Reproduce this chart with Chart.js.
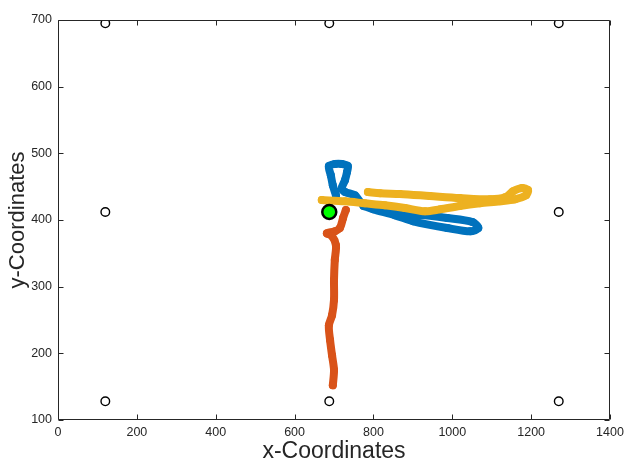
<!DOCTYPE html>
<html>
<head>
<meta charset="utf-8">
<script src="https://cdn.jsdelivr.net/npm/chart.js@4"></script>
<style>
  html, body { margin: 0; padding: 0; background: #ffffff; }
  #wrap { width: 626px; height: 461px; }
</style>
</head>
<body>
<div id="wrap"><canvas id="c" width="626" height="461"></canvas></div>
<script>
// ---- data ----
const xTicks = [0, 200, 400, 600, 800, 1000, 1200, 1400];
const yTicks = [100, 200, 300, 400, 500, 600, 700];

// reference targets (grid of anchor points)
const anchorX = [120, 688, 1270];
const anchorY = [128, 412, 695];

// start point
const startX = [688];
const startY = [412];

// trajectory 1 (blue)
const blueX = [705, 697, 692, 687, 702, 720, 735, 733, 728, 720, 728, 753, 771, 817, 901, 987, 1051, 1066, 1046, 987, 901, 855, 800, 775];
const blueY = [437, 452, 467, 481, 484, 484, 481, 472, 460, 448, 442, 437, 425, 415, 409, 403, 397, 388, 383, 388, 398, 407, 416, 421];

// trajectory 2 (orange)
const orangeX = [730, 723, 715, 702, 682, 695, 705, 702, 700, 700, 695, 687, 690, 695, 700, 697];
const orangeY = [415, 403, 388, 383, 380, 376, 362, 340, 310, 280, 257, 242, 220, 197, 175, 152];

// trajectory 3 (yellow)
const yellowX = [669, 728, 778, 829, 880, 931, 969, 1019, 1070, 1121, 1159, 1187, 1192, 1177, 1154, 1134, 1096, 1019, 943, 867, 817, 786];
const yellowY = [430, 428, 425, 422, 418, 413, 416, 421, 425, 428, 431, 437, 445, 448, 443, 434, 431, 433, 436, 439, 440, 442];

// ---- build datasets ----
function pts(xs, ys) { return xs.map((x, i) => ({ x: x, y: ys[i] })); }
const anchors = [];
anchorX.forEach(x => anchorY.forEach(y => anchors.push({ x: x, y: y })));

const FONT = "'Liberation Sans', Arial, Helvetica, sans-serif";
const AX = '#262626';

const boxPlugin = {
  id: 'matlabBox',
  afterDraw(chart) {
    const ctx = chart.ctx;
    const a = chart.chartArea;
    const xs = chart.scales.x, ys = chart.scales.y;
    ctx.save();
    ctx.strokeStyle = AX;
    ctx.lineWidth = 1;
    const L = Math.round(a.left) + 0.5, R = Math.round(a.right) - 0.5;
    const T = Math.round(a.top) + 0.5, B = Math.round(a.bottom) - 0.5;
    ctx.beginPath();
    ctx.rect(L, T, R - L, B - T);
    const tl = 5;
    xTicks.forEach(v => {
      const p = Math.round(xs.getPixelForValue(v)) + 0.5;
      ctx.moveTo(p, B); ctx.lineTo(p, B - tl);
      ctx.moveTo(p, T); ctx.lineTo(p, T + tl);
    });
    yTicks.forEach(v => {
      const p = Math.round(ys.getPixelForValue(v)) + 0.5;
      ctx.moveTo(L, p); ctx.lineTo(L + tl, p);
      ctx.moveTo(R, p); ctx.lineTo(R - tl, p);
    });
    ctx.stroke();
    ctx.restore();
  }
};

const traceStyle = (color, order) => ({
  showLine: true,
  borderColor: color,
  backgroundColor: color,
  borderWidth: 8,
  pointRadius: 4,
  pointBorderWidth: 0,
  pointHoverRadius: 0,
  borderCapStyle: 'round',
  borderJoinStyle: 'round',
  tension: 0.3,
  order: order
});

new Chart(document.getElementById('c'), {
  type: 'scatter',
  data: {
    datasets: [
      Object.assign({ label: 'blue', data: pts(blueX, blueY) }, traceStyle('#0072BD', 3)),
      Object.assign({ label: 'orange', data: pts(orangeX, orangeY) }, traceStyle('#D95319', 2)),
      Object.assign({ label: 'yellow', data: pts(yellowX, yellowY) }, traceStyle('#EDB120', 1)),
      {
        label: 'anchors', data: anchors, showLine: false,
        pointStyle: 'circle', pointRadius: 4.3, pointBorderWidth: 1.4,
        borderColor: '#000000', backgroundColor: 'rgba(0,0,0,0)', order: 4
      },
      {
        label: 'start', data: pts(startX, startY), showLine: false,
        pointStyle: 'circle', pointRadius: 7, pointBorderWidth: 2.5,
        borderColor: '#000000', backgroundColor: '#00FF00', order: 0
      }
    ]
  },
  options: {
    responsive: false,
    animation: false,
    events: [],
    layout: { padding: { top: 20, right: 16, left: 0, bottom: 0 } },
    plugins: { legend: { display: false }, tooltip: { enabled: false } },
    scales: {
      x: {
        type: 'linear', min: 0, max: 1400,
        afterBuildTicks: s => { s.ticks = xTicks.map(v => ({ value: v })); },
        afterFit: s => { s.height = 41; s.paddingLeft = 0; s.paddingRight = 0; },
        grid: { display: false, drawTicks: false },
        border: { display: false },
        ticks: { color: AX, padding: 5, font: { family: FONT, size: 12.5 }, maxRotation: 0, autoSkip: false,
                 callback: v => String(v) },
        title: { display: true, text: 'x-Coordinates', color: AX, padding: { top: 0, bottom: 0 },
                 font: { family: FONT, size: 23, lineHeight: 0.8 } }
      },
      y: {
        type: 'linear', min: 100, max: 700,
        afterBuildTicks: s => { s.ticks = yTicks.map(v => ({ value: v })); },
        afterFit: s => { s.width = 58; s.paddingTop = 0; s.paddingBottom = 0; },
        grid: { display: false, drawTicks: false },
        border: { display: false },
        ticks: { color: AX, padding: 6, font: { family: FONT, size: 12.5 }, autoSkip: false,
                 callback: v => String(v) },
        title: { display: true, text: 'y-Coordinates', color: AX, padding: { top: 7, bottom: 0 },
                 font: { family: FONT, size: 22, lineHeight: 1 } }
      }
    }
  },
  plugins: [boxPlugin]
});
</script>
</body>
</html>
